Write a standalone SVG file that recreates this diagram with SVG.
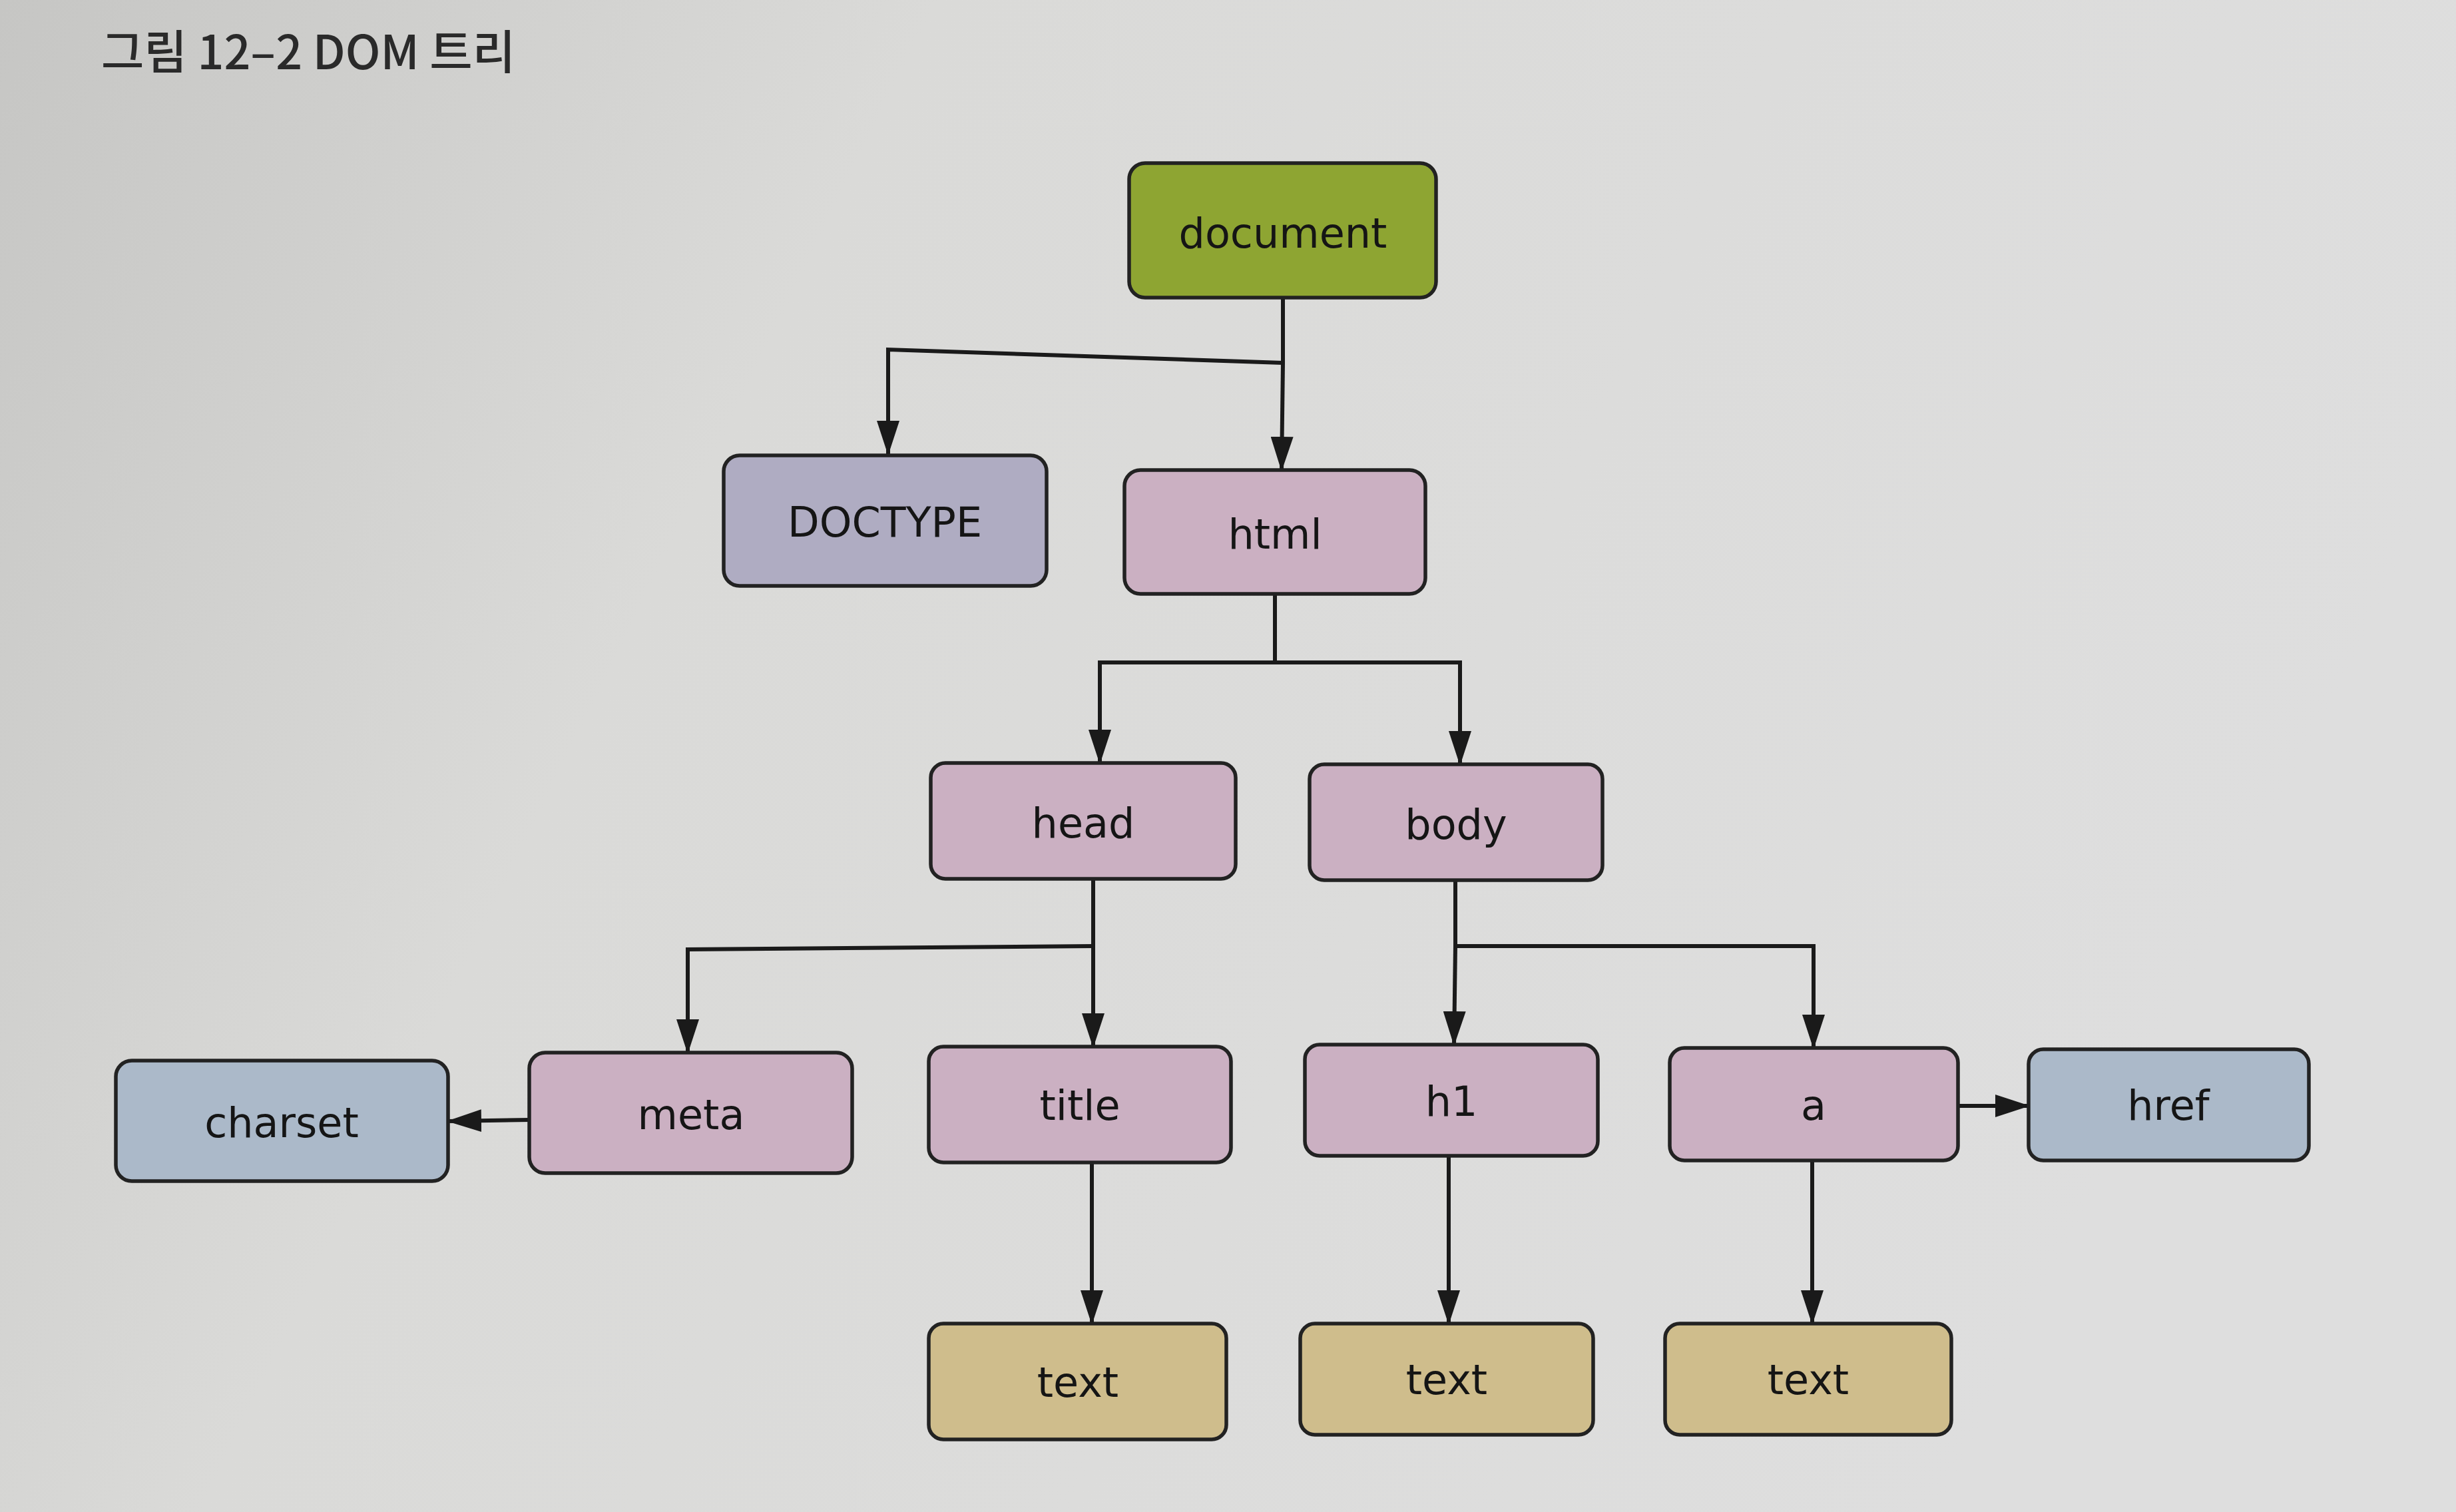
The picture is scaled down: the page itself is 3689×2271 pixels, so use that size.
<svg xmlns="http://www.w3.org/2000/svg" width="3689" height="2271" viewBox="0 0 3689 2271">
<defs>
<linearGradient id="bg" x1="0" y1="0" x2="1" y2="0.3">
<stop offset="0" stop-color="#c6c6c4"/>
<stop offset="0.35" stop-color="#dadad8"/>
<stop offset="1" stop-color="#dedede"/>
</linearGradient>
<marker id="arr" markerUnits="userSpaceOnUse" markerWidth="52" markerHeight="34" refX="50" refY="17" viewBox="0 0 52 34" orient="auto">
<path d="M0,0 L52,17 L0,34 Z" fill="#1a1a1a"/>
</marker>
<style>
.n{stroke:#222;stroke-width:5.5}
.g{fill:#8ea532}
.v{fill:#afacc2}
.p{fill:#cbb0c2}
.b{fill:#abb9c9}
.y{fill:#cfbd8c}
.t{font-family:"DejaVu Sans",sans-serif;font-size:62px;fill:#151515;text-anchor:middle;dominant-baseline:central}
.c{fill:none;stroke:#1a1a1a;stroke-width:6}
.a{marker-end:url(#arr)}
.cap{font-family:"Noto Sans CJK KR","Noto Sans",sans-serif;font-size:70px;font-weight:500;fill:#2a2a2a}
</style>
</defs>
<rect width="3689" height="2271" fill="url(#bg)"/>
<text class="cap" x="152" y="104">그림 12–2 DOM 트리</text>
<g id="connectors">
<path class="c" d="M1927,447 L1927,545"/>
<path class="c a" d="M1927,545 L1334,525 L1334,682"/>
<path class="c a" d="M1927,545 L1925,706"/>
<path class="c" d="M1915,892 L1915,995"/>
<path class="c a" d="M1915,995 L1652,995 L1652,1146"/>
<path class="c a" d="M1915,995 L2193,995 L2193,1148"/>
<path class="c" d="M1642,1320 L1642,1421"/>
<path class="c a" d="M1642,1421 L1033,1426 L1033,1581"/>
<path class="c a" d="M1642,1421 L1642,1572"/>
<path class="c" d="M2186,1322 L2186,1421"/>
<path class="c a" d="M2186,1421 L2724,1421 L2724,1574"/>
<path class="c a" d="M2186,1421 L2184,1569"/>
<path class="c a" d="M795,1682 L673,1684"/>
<path class="c a" d="M2941,1661 L3047,1661"/>
<path class="c a" d="M1640,1746 L1640,1988"/>
<path class="c a" d="M2176,1736 L2176,1988"/>
<path class="c a" d="M2722,1743 L2722,1988"/>
</g>
<g id="document"><rect class="n g" x="1696" y="245" width="461" height="202" rx="24"/><text class="t" x="1927" y="350">document</text></g>
<g id="doctype"><rect class="n v" x="1087" y="684" width="485" height="196" rx="24"/><text class="t" x="1329" y="784">DOCTYPE</text></g>
<g id="html"><rect class="n p" x="1689" y="706" width="452" height="186" rx="24"/><text class="t" x="1915" y="802">html</text></g>
<g id="head"><rect class="n p" x="1398" y="1146" width="458" height="174" rx="22"/><text class="t" x="1627" y="1236">head</text></g>
<g id="body"><rect class="n p" x="1967" y="1148" width="440" height="174" rx="22"/><text class="t" x="2187" y="1238">body</text></g>
<g id="charset"><rect class="n b" x="174" y="1593" width="499" height="181" rx="24"/><text class="t" x="423" y="1686">charset</text></g>
<g id="meta"><rect class="n p" x="795" y="1581" width="485" height="181" rx="24"/><text class="t" x="1038" y="1674">meta</text></g>
<g id="title"><rect class="n p" x="1395" y="1572" width="454" height="174" rx="22"/><text class="t" x="1622" y="1660">title</text></g>
<g id="h1"><rect class="n p" x="1960" y="1569" width="440" height="167" rx="22"/><text class="t" x="2180" y="1654">h1</text></g>
<g id="a"><rect class="n p" x="2508" y="1574" width="433" height="169" rx="22"/><text class="t" x="2724" y="1660">a</text></g>
<g id="href"><rect class="n b" x="3047" y="1576" width="421" height="167" rx="22"/><text class="t" x="3257" y="1660">href</text></g>
<g id="text1"><rect class="n y" x="1395" y="1988" width="447" height="174" rx="22"/><text class="t" x="1619" y="2076">text</text></g>
<g id="text2"><rect class="n y" x="1953" y="1988" width="440" height="167" rx="22"/><text class="t" x="2173" y="2072">text</text></g>
<g id="text3"><rect class="n y" x="2501" y="1988" width="430" height="167" rx="22"/><text class="t" x="2716" y="2072">text</text></g>
</svg>
